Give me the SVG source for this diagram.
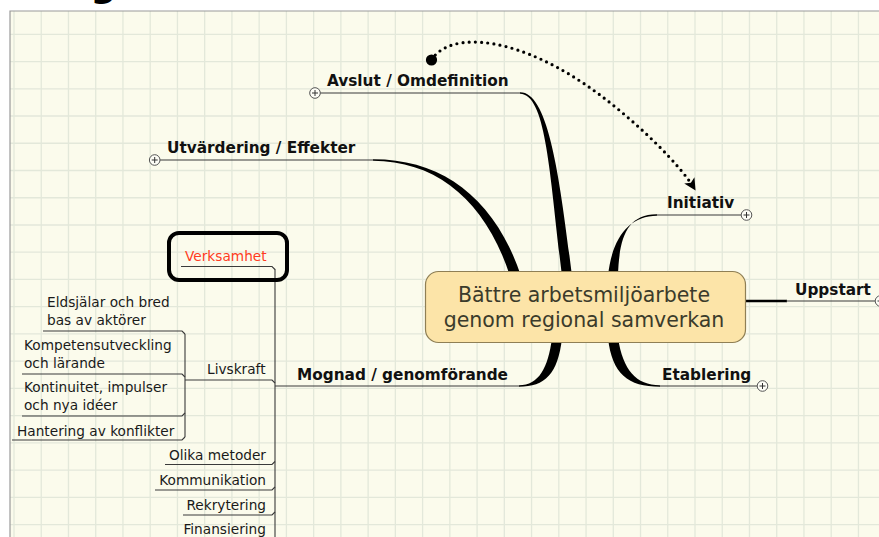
<svg xmlns="http://www.w3.org/2000/svg" xmlns:xlink="http://www.w3.org/1999/xlink" width="879" height="537" viewBox="0 0 879 537">
<style>
.bg{fill:#fbfbec}
.frame{stroke:#9a9a9a;stroke-width:1.2;fill:none}
.grid{stroke:#e3e8da;stroke-width:1.3;fill:none}
.lbl{font-family:"DejaVu Sans",Verdana,sans-serif;font-weight:bold;font-size:15.3px;fill:#111}
.sub{font-family:"DejaVu Sans",Verdana,sans-serif;font-size:13.7px;fill:#1a1a1a}
.ctr{font-family:"DejaVu Sans",Verdana,sans-serif;font-size:20.5px;fill:#3b3b2b}
.ul{stroke:#3a3a3a;stroke-width:1.1;fill:none}
.br{fill:#000}
.pc{fill:#fdfdf6;stroke:#555;stroke-width:1}
.pl{stroke:#333;stroke-width:1;fill:none}
.dots{stroke:#000;stroke-width:3.2;stroke-linecap:round;stroke-dasharray:0 6.2;fill:none}
</style>
<defs>
<g id="plus"><circle class="pc" cx="0" cy="0" r="5.3"/><path class="pl" d="M-3 0H3M0 -3V3"/></g>
<marker id="ah" markerUnits="userSpaceOnUse" markerWidth="14" markerHeight="14" refX="9" refY="6" orient="auto" viewBox="0 0 14 12">
<path d="M0 0 L12 6 L0 12 L3 6 Z" fill="#000"/>
</marker>
</defs>
<rect x="0" y="0" width="879" height="537" fill="#fff"/>
<rect class="bg" x="10" y="11" width="869" height="526"/>
<path class="grid" d="M14 11V537M41.24 11V537M68.48 11V537M95.72 11V537M122.96 11V537M150.2 11V537M177.44 11V537M204.68 11V537M231.92 11V537M259.16 11V537M286.4 11V537M313.64 11V537M340.88 11V537M368.12 11V537M395.36 11V537M422.6 11V537M449.84 11V537M477.08 11V537M504.32 11V537M531.56 11V537M558.8 11V537M586.04 11V537M613.28 11V537M640.52 11V537M667.76 11V537M695 11V537M722.24 11V537M749.48 11V537M776.72 11V537M803.96 11V537M831.2 11V537M858.44 11V537M10 34.3H879M10 61.54H879M10 88.78H879M10 116.02H879M10 143.26H879M10 170.5H879M10 197.74H879M10 224.98H879M10 252.22H879M10 279.46H879M10 306.7H879M10 333.94H879M10 361.18H879M10 388.42H879M10 415.66H879M10 442.9H879M10 470.14H879M10 497.38H879M10 524.62H879"/>
<path class="frame" d="M10 537V11H879"/>
<g id="page-heading"><text x="90.5" y="-3.5" style="font-family:'DejaVu Sans',sans-serif;font-weight:bold;font-size:36px;fill:#000">g</text></g>

<g id="connectors">
<path class="br" d="M520 92.3 C549 92 560 180 572 276 L562 276 C550 180 547 94 520 93.7 Z"/>
<path class="br" d="M373 159.3 C442 159 495 198 521 276 L510 276 C486 202 438 161 373 160.7 Z"/>
<path class="br" d="M657 214.3 C626 214 619 240 618 276 L608 276 C612 238 629 215.7 657 215.7 Z"/>
<path class="br" d="M562 338 C558 374 545 386.7 519 386.7 L519 385.3 C539 385 548 368 552 338 Z"/>
<path class="br" d="M608 338 C612 374 628 386.7 660 386.7 L660 385.3 C636 385 623 370 618 338 Z"/>
<path d="M744 301 H787" stroke="#000" stroke-width="2.6" fill="none"/>
<path class="ul" d="M320 93 H521"/>
<path class="ul" d="M160 160 H374"/>
<path class="ul" d="M656 215 H741"/>
<path class="ul" d="M786 301 H875"/>
<path class="ul" d="M659 386 H757"/>
<path class="ul" d="M275 386 H520"/>
<path class="ul" d="M275 269 V537"/>
<path class="ul" d="M181 266.5 H272 L275 269.5"/>
<path class="ul" d="M185 380 H272 L275 383"/>
<path class="ul" d="M165 464.5 H272 L275 461.5"/>
<path class="ul" d="M155 490 H272 L275 487"/>
<path class="ul" d="M183 515 H272 L275 512"/>
<path class="ul" d="M185 334 V437"/>
<path class="ul" d="M43 331 H182 L185 334"/>
<path class="ul" d="M22 374 H182 L185 377"/>
<path class="ul" d="M22 416 H182 L185 413"/>
<path class="ul" d="M12 440 H182 L185 437"/>
<circle cx="431.5" cy="60" r="5.6" fill="#000"/>
<path class="dots" d="M431.5 60 C450 30 520 35 600 95 C640 125 680 165 694 188" marker-end="url(#ah)"/>
</g>

<g id="center">
<rect x="425.5" y="271.5" width="320" height="71" rx="13" fill="#fce4a8" stroke="#8f7f55" stroke-width="1.2"/>
<text class="ctr" x="584" y="302" text-anchor="middle">Bättre arbetsmiljöarbete</text>
<text class="ctr" x="584" y="327" text-anchor="middle">genom regional samverkan</text>
</g>
<g id="avslut"><text class="lbl" x="327" y="86">Avslut / Omdefinition</text><use xlink:href="#plus" x="315" y="93"/></g>
<g id="utvardering"><text class="lbl" x="167" y="153">Utvärdering / Effekter</text><use xlink:href="#plus" x="154.7" y="160"/></g>
<g id="initiativ"><text class="lbl" x="667" y="207.5">Initiativ</text><use xlink:href="#plus" x="746.5" y="215"/></g>
<g id="uppstart"><text class="lbl" x="795" y="295">Uppstart</text><use xlink:href="#plus" x="880.5" y="301"/></g>
<g id="etablering"><text class="lbl" x="662" y="379.5">Etablering</text><use xlink:href="#plus" x="762.5" y="386"/></g>
<g id="mognad"><text class="lbl" x="297" y="380">Mognad / genomförande</text></g>
<g id="verksamhet"><rect x="169" y="233" width="118" height="47" rx="10" fill="none" stroke="#000" stroke-width="4"/><text class="sub" x="185" y="261" style="fill:#ff3b22">Verksamhet</text></g>
<g id="livskraft"><text class="sub" x="207" y="374">Livskraft</text></g>
<g id="eldsjalar"><text class="sub" x="47" y="307">Eldsjälar och bred</text><text class="sub" x="47" y="325">bas av aktörer</text></g>
<g id="kompetens"><text class="sub" x="24" y="350">Kompetensutveckling</text><text class="sub" x="24" y="368">och lärande</text></g>
<g id="kontinuitet"><text class="sub" x="24" y="391.5">Kontinuitet, impulser</text><text class="sub" x="24" y="409.5">och nya idéer</text></g>
<g id="hantering"><text class="sub" x="17" y="435.5">Hantering av konflikter</text></g>
<g id="metoder"><text class="sub" x="266" y="459.5" text-anchor="end">Olika metoder</text></g>
<g id="kommunikation"><text class="sub" x="266" y="485" text-anchor="end">Kommunikation</text></g>
<g id="rekrytering"><text class="sub" x="266" y="510" text-anchor="end">Rekrytering</text></g>
<g id="finansiering"><text class="sub" x="266" y="533.5" text-anchor="end">Finansiering</text></g>
</svg>
